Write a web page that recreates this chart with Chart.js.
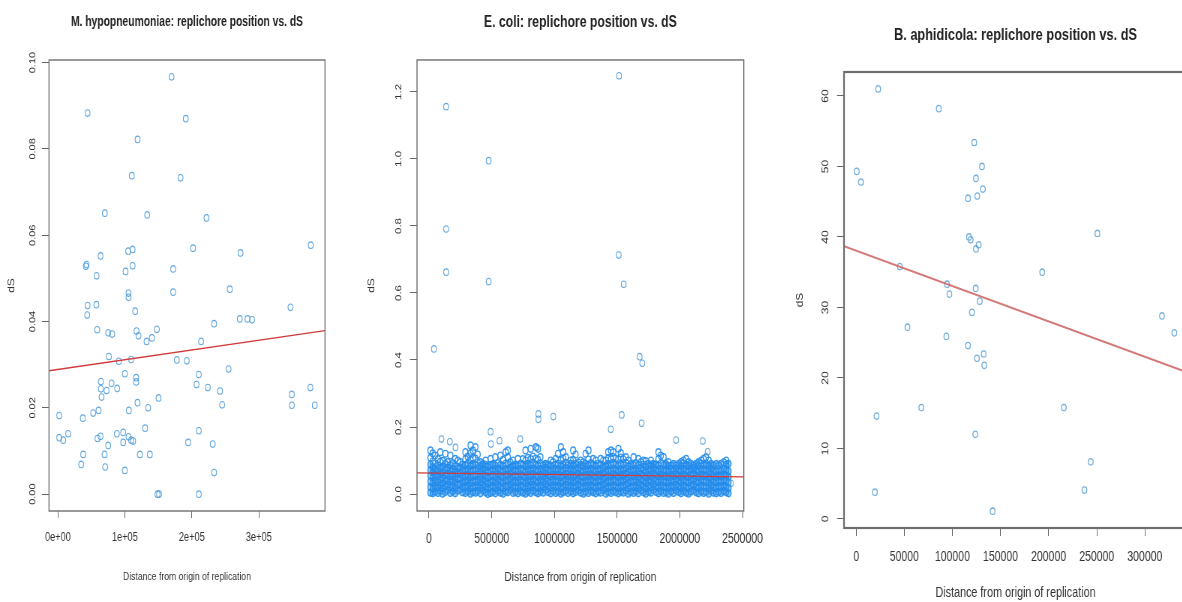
<!DOCTYPE html>
<html>
<head>
<meta charset="utf-8">
<script src="https://cdn.jsdelivr.net/npm/chart.js@4.4.0/dist/chart.umd.min.js"></script>
<style>
  html, body { margin: 0; padding: 0; background: #fff; overflow: hidden; }
  body { width: 1182px; height: 602px; position: relative; }
  /* the original figure was squeezed sideways: draw wide, then compress */
  canvas { position: absolute; top: 0; transform: scaleX(0.75); transform-origin: 0 0; }
</style>
</head>
<body>
<canvas id="mhyo" width="460" height="602" style="left:0px"></canvas>
<canvas id="ecoli" width="550" height="602" style="left:360px"></canvas>
<canvas id="buch" width="580" height="602" style="left:790px"></canvas>
<script>
// M. hypopneumoniae: distance from origin (bp) vs dS
const mhyoX = [169700, 44300, 191000, 119000, 110400, 183100, 70100, 133300, 221900, 377600,
  201900, 104900, 111500, 272700, 63700, 41800, 42800, 111500, 101000, 57800,
  172100, 256700, 172100, 105500, 105500, 44300, 57500, 43800, 115400, 271600,
  283100, 290000, 233300, 347300, 58700, 75100, 81000, 117400, 120400, 132400,
  140300, 147800, 213900, 76100, 91000, 109400, 177600, 192500, 100000, 210400,
  254800, 64200, 64200, 80100, 88500, 72700, 65200, 116900, 116900, 207000,
  223900, 242200, 245300, 150300, 118900, 134800, 106000, 52700, 60700, 2000,
  37300, 349300, 349300, 377100, 383600, 130300, 88100, 97500, 210400, 59200,
  63700, 2000, 8000, 15400, 75100, 97500, 105500, 109400, 112400, 194500,
  231300, 37800, 69700, 122400, 137300, 34800, 70600, 100000, 233300, 148800,
  151000, 210400];
const mhyoY = [0.0967, 0.0883, 0.0870, 0.0822, 0.0738, 0.0733, 0.0651, 0.0647, 0.0640, 0.0577,
  0.0570, 0.0563, 0.0567, 0.0559, 0.0552, 0.0528, 0.0532, 0.0529, 0.0516, 0.0506,
  0.0522, 0.0475, 0.0468, 0.0466, 0.0456, 0.0437, 0.0439, 0.0415, 0.0424, 0.0406,
  0.0406, 0.0404, 0.0395, 0.0433, 0.0381, 0.0374, 0.0371, 0.0378, 0.0367, 0.0354,
  0.0362, 0.0382, 0.0354, 0.0319, 0.0308, 0.0312, 0.0311, 0.0309, 0.0279, 0.0277,
  0.0290, 0.0261, 0.0244, 0.0257, 0.0245, 0.0240, 0.0225, 0.0270, 0.0260, 0.0254,
  0.0247, 0.0239, 0.0207, 0.0223, 0.0212, 0.0200, 0.0194, 0.0188, 0.0194, 0.0182,
  0.0176, 0.0231, 0.0206, 0.0247, 0.0206, 0.0153, 0.0140, 0.0143, 0.0147, 0.0129,
  0.0134, 0.0131, 0.0125, 0.0140, 0.0113, 0.0120, 0.0133, 0.0125, 0.0123, 0.0120,
  0.0116, 0.0092, 0.0092, 0.0092, 0.0092, 0.0069, 0.0063, 0.0055, 0.0050, 0.0000,
  0.0000, 0.0000];
const mhyoFitX = [-13264, 398864];
const mhyoFitY = [0.0286, 0.0379];
const mhyoXTicks = [0, 100000, 200000, 300000];
const mhyoXLabels = ['0e+00', '1e+05', '2e+05', '3e+05'];
const mhyoYTicks = [0, 0.02, 0.04, 0.06, 0.08, 0.10];
const mhyoYLabels = ['0.00', '0.02', '0.04', '0.06', '0.08', '0.10'];

// E. coli: isolated points above the main band
const ecoliX = [1515900, 137300, 476200, 137300, 1513000, 137300, 476200, 1553000, 39700, 1680000,
  1701000, 873000, 873000, 992000, 1537000, 1696000, 1450000, 492000, 1971000, 2183000,
  100000, 167000, 728000, 563000, 494000, 212000, 860000, 2222000, 2407000];
const ecoliY = [1.248, 1.156, 0.995, 0.791, 0.713, 0.662, 0.634, 0.626, 0.433, 0.410,
  0.390, 0.239, 0.223, 0.231, 0.236, 0.211, 0.193, 0.186, 0.161, 0.158,
  0.164, 0.156, 0.164, 0.159, 0.149, 0.139, 0.139, 0.126, 0.032];
// E. coli: dense band, read column by column: [position in kb, dS values in thousandths...]
const ecoliBand = [
  [12, 4, 21, 37, 55, 71, 88, 108, 130], [31, 2, 16, 33, 49, 66, 80, 97, 121],
  [49, 7, 24, 40, 57, 74, 91, 115], [72, 3, 19, 35, 52, 68, 85, 104],
  [90, 9, 26, 43, 60, 77, 96, 125], [109, 1, 17, 32, 48, 64, 82, 99],
  [131, 6, 23, 39, 56, 73, 90, 120], [149, 12, 28, 44, 61, 78, 95],
  [171, 3, 20, 37, 53, 70, 86, 115], [190, 8, 25, 42, 58, 75, 92],
  [209, 2, 18, 34, 51, 67, 83, 105], [231, 10, 27, 44, 60, 76, 100],
  [250, 14, 30, 47, 63, 79, 95], [268, 5, 22, 38, 55, 71, 88],
  [291, 3, 19, 36, 52, 69, 86, 104, 125], [309, 8, 25, 41, 58, 74, 91, 112],
  [332, 1, 17, 33, 50, 67, 84, 101, 122, 145], [350, 6, 23, 40, 56, 72, 89, 108, 130],
  [371, 4, 20, 36, 53, 70, 87, 106, 140], [389, 9, 26, 42, 59, 76, 94, 118],
  [411, 2, 18, 35, 51, 68, 84, 95], [430, 11, 27, 43, 60, 75, 90],
  [451, 5, 21, 38, 54, 71, 87, 100], [469, 0, 15, 31, 48, 65, 81],
  [492, 3, 20, 36, 53, 69, 86, 105], [510, 7, 24, 40, 57, 73, 89],
  [529, 2, 18, 35, 51, 68, 85, 110], [551, 10, 26, 43, 59, 76, 92],
  [570, 4, 21, 37, 54, 70, 87, 115], [591, 1, 17, 34, 50, 67, 84, 102],
  [612, 8, 25, 41, 58, 74, 91, 125], [629, 5, 22, 38, 55, 72, 88, 110, 130],
  [648, 12, 28, 45, 61, 78, 95], [671, 3, 19, 36, 52, 69, 85, 100],
  [690, 6, 23, 39, 56, 72, 88], [709, 2, 18, 35, 51, 68, 84, 105],
  [732, 9, 25, 42, 58, 75, 91], [749, 4, 21, 37, 54, 71, 88, 104],
  [770, 1, 16, 33, 49, 66, 83, 100, 130], [789, 7, 24, 40, 57, 73, 90, 108],
  [811, 3, 20, 36, 53, 70, 86, 104, 135], [829, 10, 27, 43, 60, 76, 93, 112],
  [852, 5, 22, 38, 55, 71, 88, 106, 140], [870, 2, 18, 35, 51, 68, 85, 102, 135],
  [889, 8, 25, 41, 58, 74, 91, 110], [911, 4, 20, 37, 53, 70, 86],
  [930, 13, 29, 46, 62, 78, 90], [948, 6, 23, 39, 56, 72, 88],
  [971, 2, 19, 35, 52, 68, 85, 100], [990, 9, 26, 42, 59, 75, 95],
  [1011, 3, 20, 36, 53, 70, 87, 105], [1029, 7, 24, 40, 57, 74, 91, 120],
  [1052, 1, 17, 34, 50, 67, 84, 101, 140], [1070, 5, 22, 38, 55, 71, 88, 106, 125],
  [1091, 10, 27, 43, 60, 77, 94, 110], [1109, 3, 19, 36, 52, 69, 86],
  [1131, 8, 25, 41, 58, 74, 90, 100], [1150, 2, 18, 35, 51, 68, 85, 102, 130],
  [1169, 6, 23, 39, 56, 73, 90, 118], [1192, 11, 28, 44, 61, 77, 94],
  [1210, 4, 21, 37, 54, 70, 87, 100], [1231, 1, 17, 34, 50, 67, 83, 95],
  [1249, 7, 24, 40, 57, 73, 90, 120], [1272, 3, 20, 36, 53, 69, 86, 103, 130],
  [1290, 9, 26, 42, 59, 75, 92], [1309, 5, 22, 38, 55, 72, 88, 105],
  [1330, 2, 18, 35, 51, 68, 84, 100], [1351, 8, 25, 41, 58, 74, 91],
  [1369, 4, 21, 37, 54, 70, 87, 105], [1390, 12, 28, 45, 61, 78, 100],
  [1411, 1, 17, 34, 50, 67, 84, 100], [1429, 6, 23, 39, 56, 72, 89, 107, 125],
  [1451, 3, 19, 36, 52, 69, 86, 104, 130], [1470, 9, 26, 42, 59, 76, 93, 110, 125],
  [1489, 5, 22, 38, 55, 71, 88, 106], [1511, 2, 18, 35, 51, 68, 85, 103, 135],
  [1530, 7, 24, 40, 57, 74, 91, 109, 122], [1549, 4, 21, 37, 54, 70, 87, 104],
  [1571, 10, 27, 43, 60, 76, 93, 110], [1590, 1, 17, 33, 50, 66, 83, 100],
  [1609, 6, 23, 39, 56, 73, 89], [1632, 3, 20, 36, 53, 69, 86, 110],
  [1650, 8, 25, 41, 58, 75, 92], [1669, 2, 18, 35, 51, 68, 85, 105],
  [1691, 11, 27, 44, 60, 77, 95], [1710, 5, 22, 38, 55, 71, 88, 100],
  [1729, 1, 16, 33, 49, 66, 82, 98], [1752, 7, 24, 40, 57, 73, 90],
  [1770, 4, 20, 37, 53, 70, 86, 100], [1789, 13, 29, 46, 62, 78, 90],
  [1811, 6, 23, 39, 56, 72, 88], [1830, 2, 19, 35, 52, 68, 85, 104, 125],
  [1849, 9, 26, 42, 59, 75, 92, 115], [1871, 3, 20, 36, 53, 69, 86, 110],
  [1890, 5, 22, 38, 55, 72, 89], [1909, 1, 18, 34, 51, 67, 84, 95],
  [1931, 8, 24, 41, 57, 74, 85], [1950, 3, 20, 36, 53, 69, 90],
  [1969, 11, 27, 44, 60, 76, 85], [1991, 6, 22, 39, 55, 72, 90],
  [2010, 2, 18, 35, 51, 68, 84, 95], [2029, 9, 25, 42, 58, 75, 91, 100],
  [2051, 4, 21, 37, 54, 70, 87, 105], [2070, 1, 17, 34, 50, 67, 83, 95],
  [2089, 7, 24, 40, 57, 73, 90], [2111, 12, 28, 45, 61, 77, 85],
  [2130, 5, 21, 38, 54, 71, 90], [2149, 2, 18, 35, 51, 68, 84, 95],
  [2171, 8, 25, 41, 58, 74, 91, 100], [2190, 3, 20, 36, 53, 69, 86, 105],
  [2209, 6, 23, 39, 56, 73, 90, 110], [2231, 1, 17, 34, 50, 67, 84, 100],
  [2250, 10, 26, 43, 59, 76, 90], [2269, 4, 20, 37, 53, 70, 85],
  [2291, 2, 18, 35, 51, 68, 90], [2310, 7, 23, 40, 56, 73, 85],
  [2329, 3, 19, 36, 52, 69, 90], [2351, 9, 25, 42, 58, 75, 95],
  [2370, 5, 22, 38, 55, 71, 88, 100], [2389, 2, 18, 35, 51, 68, 90]
];
const ecoliFitX = [-95000, 2510000];
const ecoliFitY = [0.063, 0.051];
const ecoliXTicks = [0, 500000, 1000000, 1500000, 2000000, 2500000];
const ecoliXLabels = ['0', '500000', '1000000', '1500000', '2000000', '2500000'];
const ecoliYTicks = [0, 0.2, 0.4, 0.6, 0.8, 1.0, 1.2];
const ecoliYLabels = ['0.0', '0.2', '0.4', '0.6', '0.8', '1.0', '1.2'];

// B. aphidicola
const buchX = [22800, 500, 4900, 85800, 122700, 130700, 124500, 131700, 116200, 125800,
  117200, 119000, 127300, 124500, 250700, 45300, 193300, 94400, 96800, 124200,
  128400, 120300, 53200, 93700, 116200, 125500, 132500, 133100, 317800, 330600,
  21100, 67700, 215800, 123800, 243800, 237200, 19400, 141800];
const buchY = [61.0, 49.3, 47.8, 58.2, 53.4, 50.0, 48.3, 46.8, 45.5, 45.8,
  40.0, 39.6, 38.9, 38.3, 40.5, 35.8, 35.0, 33.3, 31.9, 32.7,
  30.9, 29.3, 27.2, 25.9, 24.6, 22.8, 23.4, 21.8, 28.8, 26.4,
  14.6, 15.8, 15.8, 12.0, 8.1, 4.1, 3.8, 1.1];
const buchFitX = [-12700, 343800];
const buchFitY = [38.7, 20.8];
const buchXTicks = [0, 50000, 100000, 150000, 200000, 250000, 300000];
const buchXLabels = ['0', '50000', '100000', '150000', '200000', '250000', '300000'];
const buchYTicks = [0, 10, 20, 30, 40, 50, 60];
const buchYLabels = ['0', '10', '20', '30', '40', '50', '60'];

const sans = "'Liberation Sans', Arial, sans-serif";
const ringBlue = 'rgba(70, 150, 215, 0.85)';
const bandBlue = 'rgba(35, 140, 235, 0.9)';

const pairs = (xs, ys) => xs.map((x, i) => ({ x, y: ys[i] }));

// box round the plot region, like R's box()
const rBox = {
  id: 'rbox',
  afterDatasetsDraw(chart, args, opts) {
    const { ctx, chartArea: a } = chart;
    ctx.save();
    ctx.strokeStyle = opts.color;
    ctx.lineWidth = opts.width;
    ctx.strokeRect(a.left, a.top, a.right - a.left, a.bottom - a.top);
    ctx.restore();
  }
};

function rPlot(id, p) {
  const datasets = [{
    type: 'line',
    data: pairs(p.fitX, p.fitY),
    borderColor: p.fitColor,
    borderWidth: p.fitWidth,
    pointRadius: 0,
    fill: false
  }];
  p.points.forEach((s) => datasets.push({
    data: s.data,
    pointRadius: s.r,
    borderWidth: s.bw,
    borderColor: s.color,
    backgroundColor: s.fill || 'rgba(0,0,0,0)'
  }));

  new Chart(document.getElementById(id), {
    type: 'scatter',
    data: { datasets },
    plugins: [rBox],
    options: {
      responsive: false,
      animation: false,
      events: [],
      layout: { padding: { left: 0, right: p.padRight, top: 0, bottom: 0 } },
      plugins: {
        legend: { display: false },
        tooltip: { enabled: false },
        title: {
          display: true,
          fullSize: false,
          text: p.title,
          color: '#222',
          font: { family: sans, size: p.titleSize, weight: 'bold' },
          padding: p.titlePad
        },
        rbox: { color: '#6e6e6e', width: p.boxWidth }
      },
      scales: {
        x: {
          type: 'linear',
          min: p.xMin,
          max: p.xMax,
          afterBuildTicks: (s) => { s.ticks = p.xTicks.map((v) => ({ value: v })); },
          afterFit: (s) => { s.height = p.xHeight; },
          border: { display: false },
          grid: { drawOnChartArea: false, color: '#666', tickLength: p.xTickLen },
          ticks: {
            autoSkip: false, minRotation: 0, maxRotation: 0,
            padding: p.xPad, color: '#333',
            font: { family: sans, size: p.xFont },
            callback: (v) => p.xLabels[p.xTicks.indexOf(v)]
          },
          title: {
            display: true,
            text: 'Distance from origin of replication',
            color: '#333',
            font: { family: sans, size: p.xTitleFont },
            padding: { top: 0, bottom: p.xTitlePad }
          }
        },
        y: {
          type: 'linear',
          min: p.yMin,
          max: p.yMax,
          afterBuildTicks: (s) => { s.ticks = p.yTicks.map((v) => ({ value: v })); },
          afterFit: (s) => { s.width = p.yWidth; },
          border: { display: false },
          grid: { drawOnChartArea: false, color: '#666', tickLength: p.yTickLen },
          ticks: {
            autoSkip: false, minRotation: 90, maxRotation: 90, crossAlign: 'center',
            padding: p.yPad, color: '#333',
            font: { family: sans, size: p.yFont },
            callback: (v) => p.yLabels[p.yTicks.indexOf(v)]
          },
          title: {
            display: true,
            text: 'dS',
            color: '#333',
            font: { family: sans, size: p.yTitleFont },
            padding: { top: p.yTitlePad, bottom: 0 }
          }
        }
      }
    }
  });
}

rPlot('mhyo', {
  title: 'M. hypopneumoniae: replichore position vs. dS',
  titleSize: 13.75, titlePad: { top: 13.75, bottom: 29.75 },
  padRight: 26.67, boxWidth: 1.4,
  points: [{ data: pairs(mhyoX, mhyoY), r: 3.3, bw: 1.1, color: ringBlue }],
  fitX: mhyoFitX, fitY: mhyoFitY, fitColor: '#d03a3a', fitWidth: 1.3,
  xMin: -13264, xMax: 398864, xTicks: mhyoXTicks, xLabels: mhyoXLabels,
  xHeight: 91, xTickLen: 7, xPad: 12.5, xFont: 12.3, xTitleFont: 11.5, xTitlePad: 18,
  yMin: -0.0039, yMax: 0.1006, yTicks: mhyoYTicks, yLabels: mhyoYLabels,
  yWidth: 65.33, yTickLen: 9.33, yPad: 1.5, yFont: 11, yTitleFont: 12, yTitlePad: 8.8
});

const bandAll = ecoliBand.flatMap((col) => col.slice(1).map((v) => ({ x: col[0] * 1000, y: v / 1000 })));
const bandCore = bandAll.filter((d) => d.y <= 0.09);
const bandTop = bandAll.filter((d) => d.y > 0.09);

rPlot('ecoli', {
  title: 'E. coli: replichore position vs. dS',
  titleSize: 16.3, titlePad: { top: 13.2, bottom: 27.2 },
  padRight: 35.33, boxWidth: 1.4,
  points: [
    { data: pairs(ecoliX, ecoliY), r: 3.3, bw: 1.1, color: ringBlue },
    { data: bandTop, r: 3.4, bw: 1.4, color: bandBlue },
    { data: bandCore, r: 3.4, bw: 1.4, color: bandBlue, fill: 'rgba(35, 140, 235, 0.45)' }
  ],
  fitX: ecoliFitX, fitY: ecoliFitY, fitColor: '#d03a3a', fitWidth: 1.3,
  xMin: -95000, xMax: 2510000, xTicks: ecoliXTicks, xLabels: ecoliXLabels,
  xHeight: 91, xTickLen: 7, xPad: 12.6, xFont: 14, xTitleFont: 13.66, xTitlePad: 16.8,
  yMin: -0.0507, yMax: 1.2955, yTicks: ecoliYTicks, yLabels: ecoliYLabels,
  yWidth: 76, yTickLen: 9.33, yPad: 6.5, yFont: 11.5, yTitleFont: 12, yTitlePad: 8.8
});

rPlot('buch', {
  title: 'B. aphidicola: replichore position vs. dS',
  titleSize: 17, titlePad: { top: 24.8, bottom: 26.8 },
  padRight: 50.67, boxWidth: 2.2,
  points: [{ data: pairs(buchX, buchY), r: 3.2, bw: 1.3, color: 'rgba(90, 160, 215, 0.85)' }],
  fitX: buchFitX, fitY: buchFitY, fitColor: 'rgba(205, 95, 95, 0.85)', fitWidth: 2,
  xMin: -12700, xMax: 343800, xTicks: buchXTicks, xLabels: buchXLabels,
  xHeight: 74, xTickLen: 8, xPad: 12.6, xFont: 14, xTitleFont: 14.4, xTitlePad: 0.4,
  yMin: -1.28, yMax: 63.4, yTicks: buchYTicks, yLabels: buchYLabels,
  yWidth: 72, yTickLen: 9.33, yPad: 8.7, yFont: 12, yTitleFont: 12, yTitlePad: 6.1
});
</script>
</body>
</html>
